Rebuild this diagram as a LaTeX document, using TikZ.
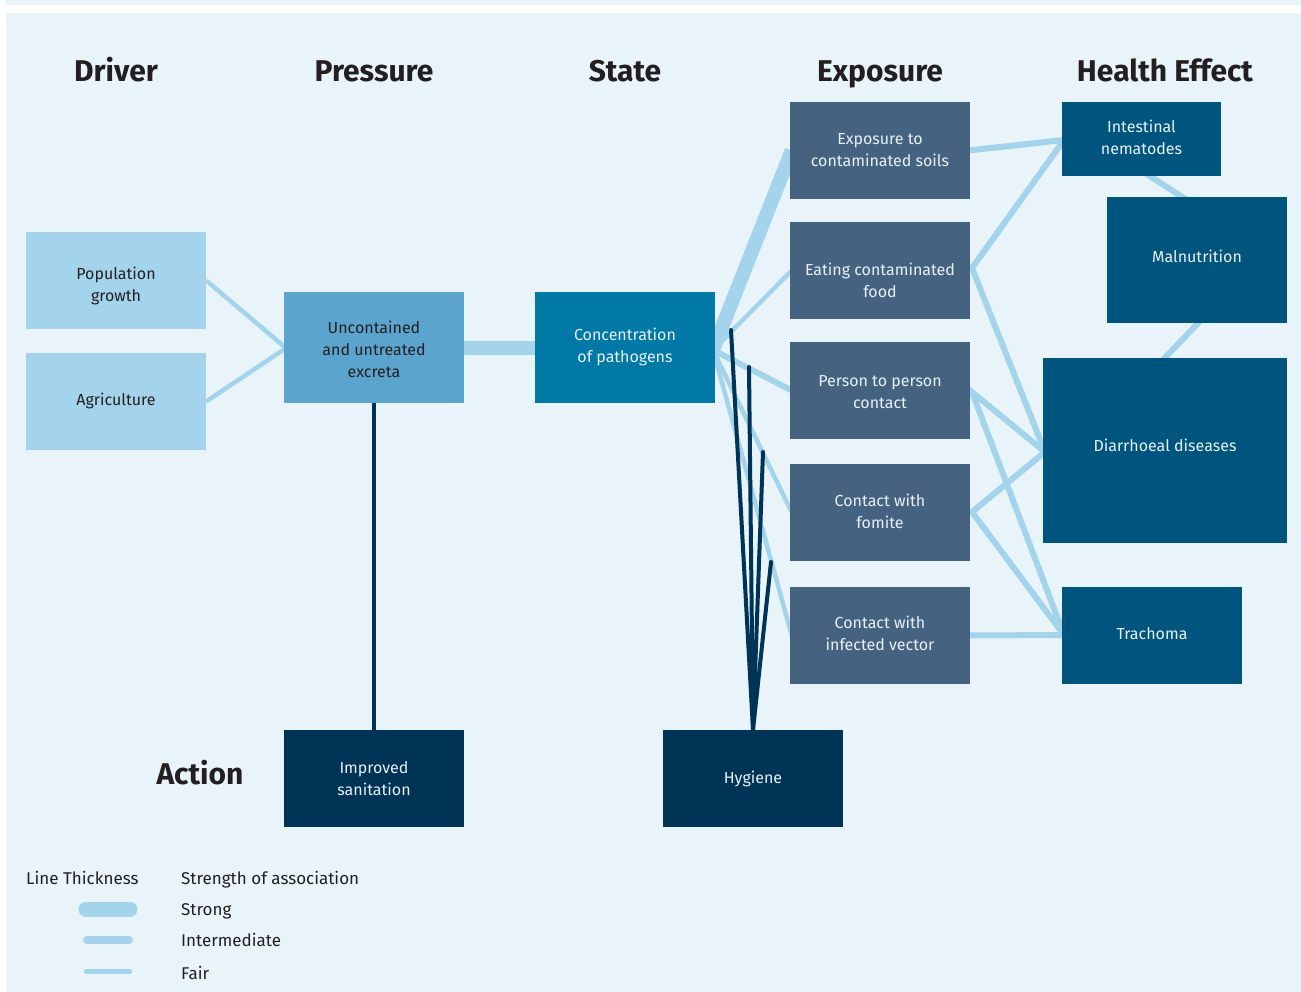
\documentclass[tikz,border=0pt]{standalone}
\usepackage{fontspec}
\setmainfont{Fira Sans}
\usetikzlibrary{calc}
\pgfdeclarelayer{back}
\pgfdeclarelayer{background}
\pgfsetlayers{back,background,main}
\definecolor{bgc}{HTML}{E8F3FA}
\definecolor{lblue}{HTML}{A4D4EC}
\definecolor{pressc}{HTML}{5BA4CD}
\definecolor{statec}{HTML}{0079A7}
\definecolor{expc}{HTML}{456381}
\definecolor{healthc}{HTML}{00557F}
\definecolor{actc}{HTML}{003457}
\definecolor{txtd}{HTML}{231F20}
\definecolor{txtl}{HTML}{E8F0F6}
\begin{document}
\begin{tikzpicture}[x=1pt,y=-1pt,
  boxbase/.style={inner sep=0pt, minimum width=180, minimum height=97},
  dlab/.style={inner sep=0pt, align=center, font=\fontsize{16}{22}\selectfont, text=txtd},
  llab/.style={inner sep=0pt, align=center, font=\fontsize{16}{22}\selectfont, text=txtl},
  drvbox/.style={boxbase, fill=lblue},
  prsbox/.style={boxbase, fill=pressc},
  stbox/.style={boxbase, fill=statec},
  expbox/.style={boxbase, fill=expc},
  hlbox/.style={boxbase, fill=healthc},
  actbox/.style={boxbase, fill=actc},
  heading/.style={font=\fontsize{30}{36}\selectfont\bfseries, text=txtd, inner sep=0pt, anchor=base},
  legtext/.style={font=\fontsize{17}{20}\selectfont, text=txtd, anchor=base west, inner sep=0pt},
  strong/.style={draw=lblue, line width=14pt},
  inter/.style={draw=lblue, line width=6pt},
  fair/.style={draw=lblue, line width=4.5pt},
  actline/.style={draw=actc, line width=4pt, line cap=round}
]
\begin{pgfonlayer}{back}
\fill[white] (0,0) rectangle (1301,992);
\fill[bgc] (6,0) rectangle (1301,5);
\fill[bgc] (6,13) rectangle (1301,992);
\end{pgfonlayer}
\useasboundingbox (0,0) rectangle (1301,992);

% headings
\node[heading] (hd) at (116,82) {Driver};
\node[heading] (hp) at (374,82) {Pressure};
\node[heading] (hs) at (625,82) {State};
\node[heading] (he) at (880,82) {Exposure};
\node[heading] (hh) at (1165,82) {Health Effect};
\node[heading] (ha) at (200,784) {Action};

% boxes
\node[drvbox, label={[dlab, yshift=-5pt]center:{Population\\growth}}] (pop) at (116,280.5) {};
\node[drvbox, label={[dlab, yshift=1pt]center:{Agriculture}}] (agr) at (116,401.5) {};
\node[prsbox, minimum height=111, label={[dlab, yshift=-2pt]center:{Uncontained\\and untreated\\excreta}}] (unc) at (374,347.5) {};
\node[stbox, minimum height=111, label={[llab, yshift=1pt]center:{Concentration\\of pathogens}}] (con) at (625,347.5) {};
\node[expbox, label={[llab, yshift=0pt]center:{Exposure to\\contaminated soils}}] (soil) at (880,150.5) {};
\node[expbox, label={[llab, yshift=-10pt]center:{Eating contaminated\\food}}] (food) at (880,270.5) {};
\node[expbox, label={[llab, yshift=-2pt]center:{Person to person\\contact}}] (pers) at (880,390.5) {};
\node[expbox, label={[llab, yshift=1pt]center:{Contact with\\fomite}}] (fom) at (880,512.5) {};
\node[expbox, label={[llab, yshift=2pt]center:{Contact with\\infected vector}}] (vec) at (880,635.5) {};
\node[hlbox, minimum width=159, minimum height=74, label={[llab, yshift=2pt]center:{Intestinal\\nematodes}}] (nem) at (1141.5,139) {};
\node[hlbox, minimum height=126, label={[llab, yshift=4pt]center:{Malnutrition}}] (mal) at (1197,260) {};
\node[hlbox, minimum width=244, minimum height=185, label={[llab, yshift=5pt]center:{Diarrhoeal diseases}}] (dia) at (1165,450.5) {};
\node[hlbox, label={[llab, yshift=2pt]center:{Trachoma}}] (tra) at (1152,635.5) {};
\node[actbox, label={[llab]center:{Improved\\sanitation}}] (san) at (374,778.5) {};
\node[actbox, label={[llab]center:{Hygiene}}] (hyg) at (753,778.5) {};

% connection points
\coordinate (uncin) at (286,348);
\coordinate (confan) at (713,350);
\coordinate (nemin) at (1064,140);
\coordinate (diain) at (1045,452);
\coordinate (train) at (1064,635);
\coordinate (foodout) at (972,268);
\coordinate (persout) at (972,392);
\coordinate (fomout) at (972,512);
\coordinate (h1) at (731,330);
\coordinate (h2) at (749,367);
\coordinate (h3) at (763,452);
\coordinate (h4) at (771,562);

\begin{pgfonlayer}{background}
\draw[fair] (pop.east) -- (uncin) -- (agr.east);
\draw[strong] (unc.east) -- (con.west);
\draw[strong] (confan) -- ($(soil.west)+(2,0)$);
\draw[fair] (confan) -- ($(food.west)+(2,0)$);
\draw[inter] (confan) -- ($(pers.west)+(2,0)$);
\draw[fair] (confan) -- ($(fom.west)+(2,0)$);
\draw[fair] (confan) -- ($(vec.west)+(2,0)$);
\draw[inter] ($(soil.east)+(-2,0)$) -- (nemin) -- (foodout) -- (diain);
\draw[inter] (diain) -- (persout) -- (train) -- (fomout) -- (diain);
\draw[inter] ($(vec.east)+(-2,0)$) -- (train);
\draw[inter] (1142,171) -- (1190,202);
\draw[inter] (1203,318) -- (1160,363);
\draw[actline] (unc.south) -- (san.north);
\draw[actline] (hyg.north) -- (h1);
\draw[actline] (hyg.north) -- (h2);
\draw[actline] (hyg.north) -- (h3);
\draw[actline] (hyg.north) -- (h4);
\end{pgfonlayer}

% legend
\node[legtext] (lt) at (26,884) {Line Thickness};
\node[legtext] (ls) at (181,884) {Strength of association};
\coordinate (s1) at (86,909); \coordinate (s2) at (130,909);
\coordinate (i1) at (87,940); \coordinate (i2) at (129,940);
\coordinate (f1) at (86.5,971); \coordinate (f2) at (129.5,971);
\draw[draw=lblue, line width=15pt, line cap=round] (s1) -- (s2);
\draw[draw=lblue, line width=8pt, line cap=round] (i1) -- (i2);
\draw[draw=lblue, line width=5pt, line cap=round] (f1) -- (f2);
\node[legtext] (lst) at (181,915) {Strong};
\node[legtext] (lin) at (181,946) {Intermediate};
\node[legtext] (lfa) at (181,979) {Fair};
\end{tikzpicture}
\end{document}
